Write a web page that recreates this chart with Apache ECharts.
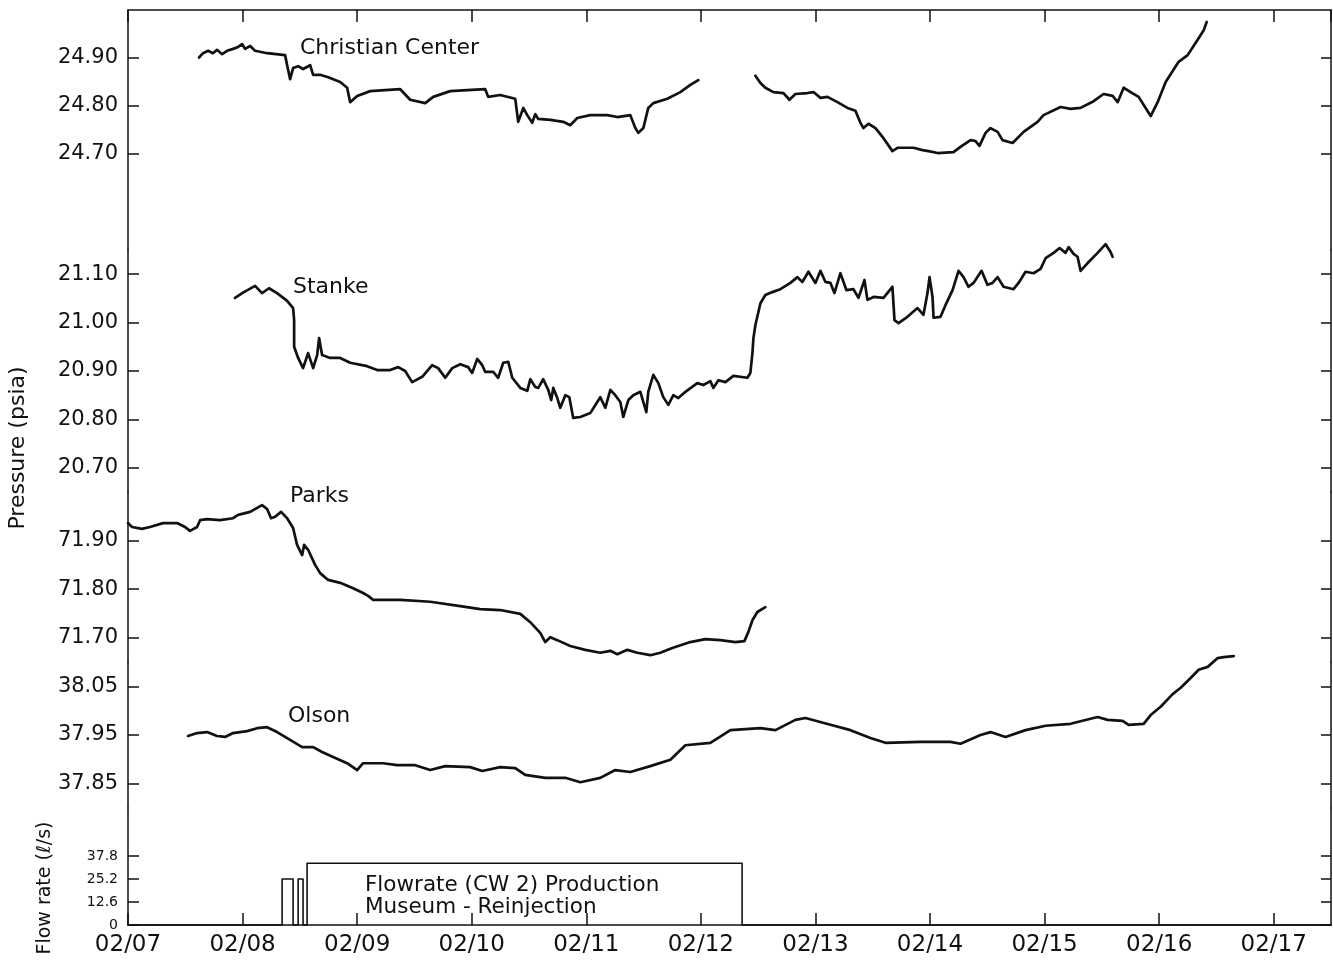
<!DOCTYPE html>
<html>
<head>
<meta charset="utf-8">
<script src="https://cdn.jsdelivr.net/npm/echarts@6/dist/echarts.min.js"></script>
<style>
  html, body { margin: 0; padding: 0; background: #fff; }
  #chart { width: 1333px; height: 961px; }
</style>
</head>
<body>
<div id="chart"></div>
<script>
// Time axis: days elapsed since 02/07 00:00
const dayLabels = ['02/07', '02/08', '02/09', '02/10', '02/11', '02/12',
                   '02/13', '02/14', '02/15', '02/16', '02/17'];

// Tick values of each stacked pressure scale (psia) and of the flow-rate scale (l/s)
const christianTicks = [24.70, 24.80, 24.90];
const stankeTicks = [20.70, 20.80, 20.90, 21.00, 21.10];
const parksTicks = [71.70, 71.80, 71.90];
const olsonTicks = [37.85, 37.95, 38.05];
const flowTicks = [0, 12.6, 25.2, 37.8];

// Christian Center well, before and after the recording gap  [day, psia]
const christianFirst = [
  [0.620, 24.901], [0.655, 24.910], [0.699, 24.915], [0.742, 24.910], [0.777, 24.917],
  [0.821, 24.908], [0.865, 24.915], [0.917, 24.919], [0.961, 24.923], [0.996, 24.929],
  [1.022, 24.919], [1.066, 24.925], [1.109, 24.915], [1.214, 24.910], [1.371, 24.906],
  [1.389, 24.885], [1.415, 24.856], [1.441, 24.879], [1.485, 24.883], [1.528, 24.877],
  [1.590, 24.885], [1.616, 24.865], [1.677, 24.865], [1.747, 24.860], [1.852, 24.850],
  [1.913, 24.838], [1.939, 24.808], [2.000, 24.821], [2.114, 24.831], [2.376, 24.835],
  [2.463, 24.813], [2.594, 24.806], [2.664, 24.819], [2.812, 24.831], [2.961, 24.833],
  [3.118, 24.835], [3.144, 24.819], [3.249, 24.823], [3.380, 24.815], [3.406, 24.767],
  [3.450, 24.796], [3.485, 24.781], [3.528, 24.765], [3.555, 24.783], [3.581, 24.773],
  [3.686, 24.771], [3.799, 24.767], [3.860, 24.760], [3.921, 24.775], [4.035, 24.781],
  [4.183, 24.781], [4.271, 24.777], [4.384, 24.781], [4.428, 24.754], [4.454, 24.744],
  [4.498, 24.754], [4.541, 24.796], [4.585, 24.806], [4.707, 24.815], [4.821, 24.829],
  [4.908, 24.844], [4.978, 24.854]
];
const christianSecond = [
  [5.476, 24.863], [5.520, 24.848], [5.563, 24.838], [5.633, 24.829], [5.721, 24.827],
  [5.773, 24.813], [5.825, 24.825], [5.930, 24.827], [5.983, 24.829], [6.044, 24.817],
  [6.105, 24.819], [6.192, 24.808], [6.280, 24.796], [6.349, 24.790], [6.393, 24.765],
  [6.419, 24.754], [6.463, 24.763], [6.524, 24.754], [6.594, 24.733], [6.672, 24.706],
  [6.716, 24.713], [6.856, 24.713], [6.934, 24.708], [6.987, 24.706], [7.066, 24.702],
  [7.205, 24.704], [7.266, 24.715], [7.354, 24.729], [7.397, 24.727], [7.432, 24.717],
  [7.485, 24.744], [7.528, 24.754], [7.590, 24.746], [7.633, 24.729], [7.721, 24.723],
  [7.817, 24.746], [7.939, 24.767], [7.991, 24.781], [8.140, 24.798], [8.227, 24.794],
  [8.314, 24.796], [8.428, 24.810], [8.515, 24.825], [8.594, 24.821], [8.638, 24.808],
  [8.690, 24.838], [8.751, 24.829], [8.821, 24.819], [8.882, 24.796], [8.926, 24.779],
  [8.987, 24.808], [9.057, 24.850], [9.170, 24.892], [9.249, 24.906], [9.336, 24.938],
  [9.389, 24.958], [9.415, 24.975]
];

// Stanke well  [day, psia]
const stanke = [
  [0.934, 21.051], [1.004, 21.062], [1.109, 21.076], [1.170, 21.061], [1.231, 21.071],
  [1.301, 21.061], [1.389, 21.045], [1.441, 21.030], [1.450, 21.005], [1.450, 20.950],
  [1.485, 20.927], [1.528, 20.906], [1.572, 20.937], [1.616, 20.906], [1.651, 20.933],
  [1.668, 20.968], [1.694, 20.933], [1.764, 20.927], [1.852, 20.927], [1.939, 20.917],
  [2.087, 20.910], [2.175, 20.902], [2.288, 20.902], [2.358, 20.908], [2.419, 20.900],
  [2.480, 20.877], [2.568, 20.888], [2.655, 20.912], [2.707, 20.906], [2.769, 20.886],
  [2.830, 20.906], [2.900, 20.914], [2.969, 20.908], [3.004, 20.896], [3.048, 20.925],
  [3.092, 20.912], [3.118, 20.898], [3.188, 20.898], [3.231, 20.886], [3.275, 20.917],
  [3.319, 20.919], [3.354, 20.886], [3.424, 20.865], [3.485, 20.859], [3.511, 20.883],
  [3.555, 20.867], [3.581, 20.865], [3.624, 20.883], [3.668, 20.861], [3.694, 20.840],
  [3.712, 20.865], [3.747, 20.844], [3.773, 20.824], [3.817, 20.850], [3.852, 20.846],
  [3.886, 20.803], [3.948, 20.805], [4.035, 20.813], [4.096, 20.836], [4.122, 20.846],
  [4.166, 20.824], [4.210, 20.861], [4.253, 20.850], [4.297, 20.836], [4.323, 20.805],
  [4.367, 20.840], [4.410, 20.850], [4.472, 20.857], [4.524, 20.815], [4.541, 20.857],
  [4.585, 20.892], [4.629, 20.875], [4.672, 20.846], [4.716, 20.830], [4.760, 20.850],
  [4.803, 20.844], [4.865, 20.857], [4.969, 20.875], [5.022, 20.871], [5.083, 20.879],
  [5.109, 20.865], [5.153, 20.881], [5.214, 20.877], [5.284, 20.890], [5.406, 20.886],
  [5.432, 20.896], [5.450, 20.937], [5.459, 20.968], [5.476, 20.995], [5.520, 21.040],
  [5.563, 21.057], [5.624, 21.063], [5.694, 21.069], [5.782, 21.082], [5.843, 21.094],
  [5.886, 21.084], [5.939, 21.105], [6.000, 21.082], [6.044, 21.107], [6.087, 21.084],
  [6.131, 21.082], [6.166, 21.061], [6.218, 21.102], [6.271, 21.067], [6.332, 21.069],
  [6.376, 21.051], [6.428, 21.088], [6.454, 21.047], [6.507, 21.053], [6.594, 21.051],
  [6.672, 21.074], [6.690, 21.005], [6.725, 20.999], [6.803, 21.012], [6.891, 21.030],
  [6.943, 21.016], [6.978, 21.061], [6.996, 21.094], [7.022, 21.053], [7.031, 21.010],
  [7.092, 21.012], [7.135, 21.036], [7.197, 21.067], [7.249, 21.107], [7.293, 21.094],
  [7.336, 21.074], [7.380, 21.082], [7.450, 21.107], [7.502, 21.078], [7.546, 21.082],
  [7.590, 21.094], [7.642, 21.074], [7.729, 21.069], [7.773, 21.082], [7.834, 21.105],
  [7.904, 21.102], [7.965, 21.111], [8.009, 21.133], [8.079, 21.144], [8.131, 21.154],
  [8.183, 21.144], [8.210, 21.156], [8.253, 21.142], [8.288, 21.136], [8.314, 21.107],
  [8.376, 21.123], [8.463, 21.144], [8.533, 21.162], [8.576, 21.146], [8.594, 21.136]
];

// Parks well  [day, psia]
const parks = [
  [0.000, 71.936], [0.035, 71.928], [0.122, 71.924], [0.192, 71.928], [0.306, 71.936],
  [0.428, 71.936], [0.498, 71.928], [0.541, 71.920], [0.603, 71.928], [0.629, 71.942],
  [0.690, 71.944], [0.803, 71.942], [0.917, 71.946], [0.961, 71.953], [1.066, 71.959],
  [1.170, 71.973], [1.214, 71.965], [1.249, 71.946], [1.284, 71.949], [1.336, 71.959],
  [1.389, 71.946], [1.441, 71.926], [1.476, 71.891], [1.520, 71.870], [1.537, 71.891],
  [1.572, 71.881], [1.633, 71.850], [1.677, 71.833], [1.747, 71.819], [1.852, 71.813],
  [1.965, 71.802], [2.052, 71.792], [2.096, 71.786], [2.140, 71.778], [2.376, 71.778],
  [2.638, 71.774], [2.900, 71.765], [3.074, 71.759], [3.249, 71.757], [3.424, 71.749],
  [3.511, 71.732], [3.598, 71.710], [3.642, 71.691], [3.686, 71.701], [3.747, 71.695],
  [3.860, 71.683], [3.991, 71.675], [4.122, 71.669], [4.210, 71.673], [4.271, 71.666],
  [4.358, 71.675], [4.445, 71.669], [4.559, 71.664], [4.646, 71.669], [4.751, 71.679],
  [4.908, 71.691], [5.039, 71.697], [5.170, 71.695], [5.301, 71.691], [5.380, 71.693],
  [5.415, 71.712], [5.450, 71.736], [5.493, 71.753], [5.563, 71.763]
];

// Olson well  [day, psia]
const olson = [
  [0.524, 37.948], [0.603, 37.954], [0.690, 37.956], [0.777, 37.948], [0.847, 37.946],
  [0.917, 37.954], [1.039, 37.958], [1.127, 37.964], [1.214, 37.966], [1.301, 37.956],
  [1.415, 37.940], [1.520, 37.925], [1.616, 37.925], [1.694, 37.915], [1.790, 37.905],
  [1.913, 37.892], [2.000, 37.878], [2.052, 37.892], [2.227, 37.892], [2.349, 37.888],
  [2.507, 37.888], [2.638, 37.878], [2.769, 37.886], [2.987, 37.884], [3.092, 37.876],
  [3.249, 37.884], [3.380, 37.882], [3.467, 37.868], [3.642, 37.862], [3.817, 37.862],
  [3.948, 37.853], [4.122, 37.862], [4.253, 37.878], [4.384, 37.874], [4.559, 37.886],
  [4.734, 37.899], [4.865, 37.929], [5.083, 37.934], [5.258, 37.960], [5.520, 37.964],
  [5.651, 37.960], [5.825, 37.981], [5.913, 37.985], [6.131, 37.971], [6.306, 37.960],
  [6.480, 37.944], [6.611, 37.934], [6.917, 37.936], [7.179, 37.936], [7.266, 37.932],
  [7.441, 37.950], [7.528, 37.956], [7.659, 37.946], [7.834, 37.960], [8.009, 37.969],
  [8.227, 37.973], [8.463, 37.987], [8.550, 37.981], [8.681, 37.979], [8.734, 37.971],
  [8.865, 37.973], [8.926, 37.991], [9.013, 38.008], [9.118, 38.034], [9.188, 38.047],
  [9.275, 38.067], [9.345, 38.084], [9.424, 38.090], [9.511, 38.108], [9.563, 38.110],
  [9.651, 38.112]
];

// CW 2 production flow rate, drawn as steps  [day, l/s]
const flowRate = [
  [0, 0], [1.345, 25.2], [1.441, 0], [1.485, 25.2], [1.528, 0],
  [1.563, 33.8], [5.360, 0], [10.5, 0]
];

// ---- layout of the five stacked panels ----
const INK = '#111';
const FONT = "'DejaVu Sans', 'Liberation Sans', sans-serif";
const X_MAX = 10.5;

const panels = [
  { top: 10,  height: 240, min: 24.50, max: 25.00, ticks: christianTicks, digits: 2 },
  { top: 250, height: 242, min: 20.65, max: 21.15, ticks: stankeTicks,    digits: 2 },
  { top: 492, height: 170, min: 71.65, max: 72.00, ticks: parksTicks,     digits: 2 },
  { top: 662, height: 146, min: 37.80, max: 38.10, ticks: olsonTicks,     digits: 2 },
  { top: 808, height: 117, min: 0,     max: 64,    ticks: flowTicks,      digits: 1 }
];
const last = panels.length - 1;

const grid = panels.map(p => ({ left: 128, right: 2, top: p.top, height: p.height }));

const xAxis = panels.map((p, i) => {
  const isTop = i === 0, isBottom = i === last;
  return {
    type: 'value', gridIndex: i, min: 0, max: X_MAX, interval: 1,
    position: isTop ? 'top' : 'bottom',
    show: isTop || isBottom,
    axisLine: { show: true, onZero: false, lineStyle: { color: INK, width: 1.5 } },
    axisTick: { show: true, inside: true, length: 12, lineStyle: { color: INK, width: 1.5 } },
    axisLabel: {
      show: isBottom, margin: 9, color: INK, fontFamily: FONT, fontSize: 23,
      showMaxLabel: false,
      formatter: v => (Number.isInteger(v) && dayLabels[v]) ? dayLabels[v] : ''
    },
    splitLine: { show: false }
  };
});

const yLeft = panels.map((p, i) => ({
  type: 'value', gridIndex: i, min: p.min, max: p.max, position: 'left',
  axisLine: { show: true, onZero: false, lineStyle: { color: INK, width: 1.5 } },
  axisTick: { show: true, inside: true, length: 11, customValues: p.ticks,
              lineStyle: { color: INK, width: 1.5 } },
  axisLabel: {
    show: true, margin: 10, color: INK, customValues: p.ticks,
    fontFamily: FONT, fontSize: i === last ? 14 : 21,
    formatter: v => (v === 0 ? '0' : Number(v).toFixed(p.digits))
  },
  splitLine: { show: false }
}));

const yRight = panels.map((p, i) => ({
  type: 'value', gridIndex: i, min: p.min, max: p.max, position: 'right',
  axisLine: { show: true, onZero: false, lineStyle: { color: INK, width: 1.5 } },
  axisTick: { show: true, inside: true, length: 10, customValues: p.ticks,
              lineStyle: { color: INK, width: 1.5 } },
  axisLabel: { show: false },
  splitLine: { show: false }
}));

function trace(data, panel, width) {
  return {
    type: 'line', data: data, xAxisIndex: panel, yAxisIndex: panel,
    showSymbol: false, symbol: 'none', clip: false, smooth: false,
    lineStyle: { color: INK, width: width || 2.7, join: 'round', cap: 'round' },
    silent: true
  };
}

const series = [
  trace(christianFirst, 0),
  trace(christianSecond, 0),
  trace(stanke, 1),
  trace(parks, 2),
  trace(olson, 3),
  Object.assign(trace(flowRate, 4, 1.6), { step: 'end' })
];

function label(text, x, y, size, rotate) {
  return {
    type: 'text', x: x, y: y, rotation: rotate || 0, silent: true,
    style: {
      text: text, fill: INK, fontFamily: FONT, fontSize: size,
      align: rotate ? 'center' : 'left', verticalAlign: 'middle'
    }
  };
}

const graphic = [
  label('Christian Center', 300, 48, 22),
  label('Stanke', 293, 287, 22),
  label('Parks', 290, 496, 22),
  label('Olson', 288, 716, 22),
  label('Flowrate (CW 2) Production', 365, 885, 21.5),
  label('Museum - Reinjection', 365, 907, 21.5),
  label('Pressure (psia)', 18, 448, 22, Math.PI / 2),
  label('Flow rate (\u2113/s)', 45, 888, 19, Math.PI / 2)
];

const chart = echarts.init(document.getElementById('chart'), null, { renderer: 'canvas' });
chart.setOption({
  backgroundColor: '#fff',
  animation: false,
  textStyle: { fontFamily: FONT, color: INK },
  grid: grid,
  xAxis: xAxis,
  yAxis: yLeft.concat(yRight),
  series: series,
  graphic: graphic
});
</script>
</body>
</html>
